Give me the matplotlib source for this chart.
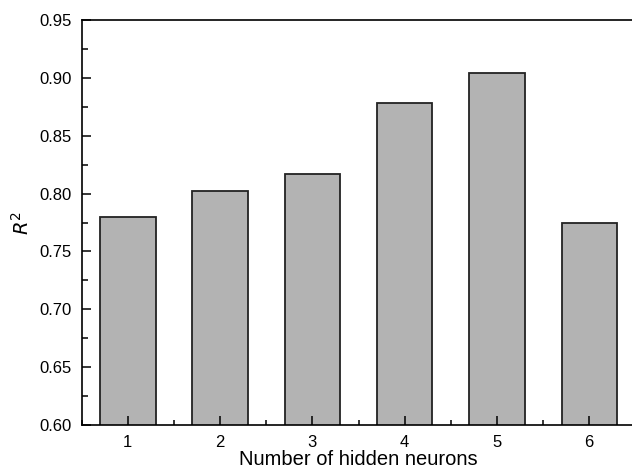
import matplotlib.pyplot as plt
from matplotlib.ticker import MultipleLocator

neurons = [1, 2, 3, 4, 5, 6]
r2 = [0.780, 0.802, 0.817, 0.878, 0.904, 0.775]

plt.rcParams['font.family'] = ['Liberation Sans', 'DejaVu Sans']
plt.rcParams['font.size'] = 12

fig = plt.figure(figsize=(6.32, 4.72), dpi=100)
ax = fig.add_axes([0.1293, 0.0996, 0.876, 0.858])

ax.bar(neurons, r2, width=0.6, color='#b3b3b3', edgecolor='#222222', linewidth=1.3)

ax.set_xlim(0.5, 6.5)
ax.set_ylim(0.60, 0.95)
ax.set_xticks(neurons)
ax.xaxis.set_minor_locator(MultipleLocator(0.5))
ax.yaxis.set_major_locator(MultipleLocator(0.05))
ax.yaxis.set_minor_locator(MultipleLocator(0.025))
ax.yaxis.set_major_formatter(plt.FormatStrFormatter('%.2f'))

ax.tick_params(which='major', direction='in', length=6.5, width=1.1, pad=7,
               top=False, right=False)
ax.tick_params(which='minor', direction='in', length=3.5, width=1.1,
               top=False, right=False)
ax.tick_params(axis='y', which='minor', length=4.5)

for side in ['left', 'bottom', 'top']:
    ax.spines[side].set_linewidth(1.2)
ax.spines['right'].set_visible(False)

ax.set_xlabel('Number of hidden neurons', fontsize=14.5, labelpad=0)
ax.set_ylabel('$R^2$', fontsize=14, labelpad=5)

plt.savefig('out.png', dpi=100)
